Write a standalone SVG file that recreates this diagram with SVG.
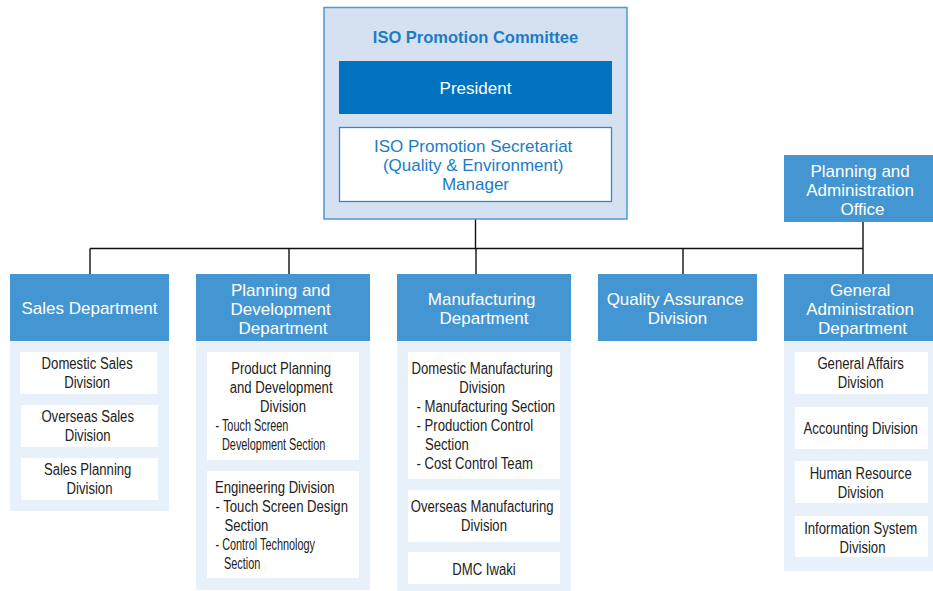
<svg xmlns="http://www.w3.org/2000/svg" width="933" height="591" viewBox="0 0 933 591">
  <style>
    .committee { fill: #d5e1f1; stroke: #4a9bd6; stroke-width: 1.5; }
    .head { fill: #4396d2; }
    .body { fill: #e8f0fa; }
    .item { fill: #ffffff; }
    .htxt { font-family: "Liberation Sans", Arial, sans-serif; font-size: 17px; fill: #ffffff; text-anchor: middle; }
    .btxt { font-family: "Liberation Sans", Arial, sans-serif; font-size: 17px; fill: #1b7cc6; text-anchor: middle; }
    .itxt { font-family: "Liberation Sans", Arial, sans-serif; font-size: 16px; fill: #222222; }
    .stxt { font-family: "Liberation Sans", Arial, sans-serif; font-size: 16px; fill: #222222; }
    .c { text-anchor: middle; }
    .link { fill: none; stroke: #111111; stroke-width: 1.4; }
  </style>

  <!-- connectors -->
  <g id="connectors" class="link">
    <line x1="475.5" y1="114" x2="475.5" y2="127"/>
    <line x1="475.5" y1="202" x2="475.5" y2="248.5"/>
    <line x1="90" y1="248.5" x2="863" y2="248.5"/>
    <line x1="90" y1="248.5" x2="90" y2="274"/>
    <line x1="289" y1="248.5" x2="289" y2="274"/>
    <line x1="476" y1="248.5" x2="476" y2="274"/>
    <line x1="683" y1="248.5" x2="683" y2="274"/>
    <line x1="863" y1="222" x2="863" y2="274"/>
  </g>

  <!-- ISO Promotion Committee -->
  <g id="committee">
    <rect class="committee" x="324" y="7.5" width="303" height="211.5"/>
    <text x="475.5" y="43" class="btxt" style="font-weight:bold;font-size:16.5px">ISO Promotion Committee</text>
  </g>
  <g id="president">
    <rect x="339" y="61" width="273" height="53" fill="#0072bf"/>
    <text x="475.5" y="94" class="htxt">President</text>
  </g>
  <g id="secretariat">
    <rect x="339.5" y="127.5" width="272" height="74" fill="#ffffff" stroke="#2e8ad0" stroke-width="1.3"/>
    <text class="btxt">
      <tspan x="475.5" y="152">ISO Promotion Secretariat</tspan>
      <tspan x="475.5" y="171">(Quality &amp; Environment)</tspan>
      <tspan x="475.5" y="190">Manager</tspan>
    </text>
  </g>

  <!-- Planning and Administration Office -->
  <g id="planning-admin-office">
    <rect class="head" x="784" y="155" width="149" height="67"/>
    <text class="htxt">
      <tspan x="862.5" y="176.5">Planning and</tspan>
      <tspan x="862.5" y="195.5">Administration</tspan>
      <tspan x="862.5" y="214.5">Office</tspan>
    </text>
  </g>

  <!-- Sales Department -->
  <g id="sales">
    <rect class="body" x="10" y="341" width="159" height="170"/>
    <rect class="head" x="10" y="274" width="159" height="67"/>
    <text x="89.5" y="314" class="htxt">Sales Department</text>
    <rect class="item" x="20" y="352" width="137.5" height="42"/>
    <rect class="item" x="21" y="405" width="137" height="42"/>
    <rect class="item" x="21" y="458" width="137" height="42"/>
    <!-- condensed lettering: x values are divided by the horizontal squeeze -->
    <text class="itxt c" transform="scale(0.82 1)">
      <tspan x="108.54" y="369">Domestic Sales</tspan>
      <tspan x="108.54" y="388">Division</tspan>
      <tspan x="109.15" y="422">Overseas Sales</tspan>
      <tspan x="109.15" y="441">Division</tspan>
      <tspan x="109.15" y="475">Sales Planning</tspan>
      <tspan x="109.15" y="494">Division</tspan>
    </text>
  </g>

  <!-- Planning and Development Department -->
  <g id="planning-development">
    <rect class="body" x="196" y="341" width="174" height="249"/>
    <rect class="head" x="196" y="274" width="174" height="67"/>
    <text class="htxt">
      <tspan x="283" y="295.5">Planning and</tspan>
      <tspan x="283" y="314.5">Development</tspan>
      <tspan x="283" y="333.5">Department</tspan>
    </text>
    <rect class="item" x="207" y="352" width="152" height="108"/>
    <text class="itxt c" transform="scale(0.82 1)">
      <tspan x="345.12" y="374">Product Planning</tspan>
      <tspan x="345.12" y="393">and Development</tspan>
      <tspan x="345.12" y="412">Division</tspan>
    </text>
    <text class="stxt" transform="scale(0.68 1)">
      <tspan x="316.91" y="431">- Touch Screen</tspan>
      <tspan x="326.47" y="450">Development Section</tspan>
    </text>
    <rect class="item" x="207" y="471" width="152" height="107"/>
    <text class="itxt" transform="scale(0.82 1)">
      <tspan x="262.20" y="493">Engineering Division</tspan>
      <tspan x="262.80" y="512">- Touch Screen Design</tspan>
      <tspan x="273.78" y="531">Section</tspan>
    </text>
    <text class="stxt" transform="scale(0.68 1)">
      <tspan x="316.91" y="550">- Control Technology</tspan>
      <tspan x="329.41" y="569">Section</tspan>
    </text>
  </g>

  <!-- Manufacturing Department -->
  <g id="manufacturing">
    <rect class="body" x="397" y="341" width="174" height="250"/>
    <rect class="head" x="397" y="274" width="174" height="67"/>
    <text class="htxt">
      <tspan x="484" y="305">Manufacturing</tspan>
      <tspan x="484" y="324">Department</tspan>
    </text>
    <rect class="item" x="408" y="352" width="152" height="127"/>
    <text class="itxt" transform="scale(0.82 1)">
      <tspan class="c" x="590.24" y="374">Domestic Manufacturing</tspan>
      <tspan class="c" x="590.24" y="393">Division</tspan>
      <tspan x="507.93" y="412">- Manufacturing Section</tspan>
      <tspan x="507.93" y="431">- Production Control</tspan>
      <tspan x="518.29" y="450">Section</tspan>
      <tspan x="507.93" y="469">- Cost Control Team</tspan>
    </text>
    <rect class="item" x="408" y="490" width="152" height="52"/>
    <text class="itxt c" transform="scale(0.82 1)">
      <tspan x="590.24" y="512">Overseas Manufacturing</tspan>
      <tspan x="590.24" y="531">Division</tspan>
    </text>
    <rect class="item" x="408" y="552" width="152" height="32"/>
    <text x="590.24" y="575" class="itxt c" transform="scale(0.82 1)">DMC Iwaki</text>
  </g>

  <!-- Quality Assurance Division -->
  <g id="quality-assurance">
    <rect class="head" x="598" y="274" width="159" height="67"/>
    <text class="htxt">
      <tspan x="677.5" y="304.5">Quality Assurance</tspan>
      <tspan x="677.5" y="323.5">Division</tspan>
    </text>
  </g>

  <!-- General Administration Department -->
  <g id="general-admin">
    <rect class="body" x="784" y="341" width="149" height="230"/>
    <rect class="head" x="784" y="274" width="149" height="67"/>
    <text class="htxt">
      <tspan x="862.5" y="295.5">General</tspan>
      <tspan x="862.5" y="314.5">Administration</tspan>
      <tspan x="862.5" y="333.5">Department</tspan>
    </text>
    <rect class="item" x="795" y="352" width="133" height="42"/>
    <rect class="item" x="795" y="407" width="133" height="42"/>
    <rect class="item" x="795" y="461" width="133" height="42"/>
    <rect class="item" x="795" y="516" width="133" height="41"/>
    <text class="itxt c" transform="scale(0.82 1)">
      <tspan x="1051.83" y="369">General Affairs</tspan>
      <tspan x="1051.83" y="388">Division</tspan>
      <tspan x="1051.83" y="434">Accounting Division</tspan>
      <tspan x="1051.83" y="479">Human Resource</tspan>
      <tspan x="1051.83" y="498">Division</tspan>
      <tspan x="1051.83" y="534">Information System</tspan>
      <tspan x="1051.83" y="553">Division</tspan>
    </text>
  </g>
</svg>
